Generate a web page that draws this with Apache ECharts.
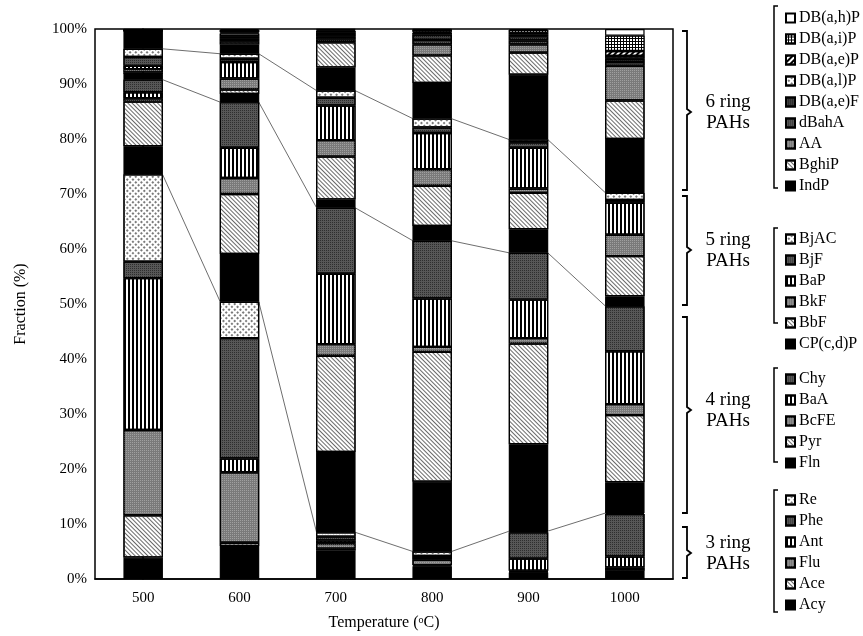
<!DOCTYPE html>
<html>
<head>
<meta charset="utf-8">
<script src="https://cdn.jsdelivr.net/npm/echarts@6/dist/echarts.min.js"></script>
<style>
  html, body { margin: 0; padding: 0; background: #fff; }
  #container { width: 863px; height: 636px; }
</style>
</head>
<body>
<div id="container"></div>
<script>
// categories
var temps = ['500', '600', '700', '800', '900', '1000'];
var yTicks = [0, 10, 20, 30, 40, 50, 60, 70, 80, 90, 100];

// 3 ring
var Acy = [3.9, 6.0, 5.2, 2.3, 1.2, 1.5];
var Ace = [7.7, 0.6, 0.3, 0.2, 0.1, 0.3];
var Flu = [15.5, 12.8, 1.0, 1.0, 0.2, 0.3];
var Ant = [27.6, 2.5, 0.5, 0.3, 2.2, 2.0];
var Phe = [3.0, 21.9, 0.7, 0.4, 4.8, 7.7];
var Re = [15.9, 6.6, 0.8, 0.8, 0.2, 0.2];
// 4 ring
var Fln = [5.1, 8.7, 14.6, 12.7, 15.8, 5.6];
var Pyr = [8.1, 10.9, 17.5, 23.6, 18.3, 12.2];
var BcFE = [0.6, 2.9, 2.1, 0.9, 1.0, 2.0];
var BaA = [1.1, 5.5, 12.8, 8.8, 7.0, 9.6];
var Chy = [2.3, 8.3, 12.0, 10.5, 8.5, 8.2];
// 5 ring
var CPcdP = [1.0, 1.5, 1.5, 2.7, 4.3, 1.8];
var BbF = [0.3, 0.8, 7.8, 7.3, 6.6, 7.3];
var BkF = [0.6, 2.0, 3.0, 3.0, 0.8, 3.9];
var BaP = [0.6, 3.0, 6.3, 6.6, 7.4, 5.8];
var BjF = [1.6, 0.6, 1.4, 1.0, 1.0, 0.5];
var BjAC = [1.5, 0.9, 1.3, 1.6, 0.5, 1.3];
// 6 ring
var IndP = [3.1, 1.7, 4.2, 6.5, 11.8, 9.8];
var BghiP = [0.1, 0.5, 4.6, 5.0, 4.0, 7.0];
var AA = [0.1, 0.3, 0.5, 2.0, 1.5, 6.3];
var dBahA = [0.0, 0.3, 0.5, 0.8, 0.7, 0.7];
var DBaeF = [0.1, 0.4, 0.5, 1.0, 0.8, 0.6];
var DBalP = [0.0, 0.5, 0.3, 0.3, 0.3, 0.5];
var DBaeP = [0.0, 0.2, 0.3, 0.2, 0.3, 0.9];
var DBaiP = [0.1, 0.4, 0.2, 0.4, 0.5, 2.8];
var DBahP = [0.1, 0.2, 0.1, 0.1, 0.2, 1.2];

var ring3 = [['Acy', Acy, 'black'], ['Ace', Ace, 'diag'], ['Flu', Flu, 'gray'], ['Ant', Ant, 'stripe'], ['Phe', Phe, 'dark'], ['Re', Re, 'check']];
var ring4 = [['Fln', Fln, 'black'], ['Pyr', Pyr, 'diag'], ['BcFE', BcFE, 'gray'], ['BaA', BaA, 'stripe'], ['Chy', Chy, 'dark']];
var ring5 = [['CP(c,d)P', CPcdP, 'black'], ['BbF', BbF, 'diag'], ['BkF', BkF, 'gray'], ['BaP', BaP, 'stripe'], ['BjF', BjF, 'dark'], ['BjAC', BjAC, 'check']];
var ring6 = [['IndP', IndP, 'black'], ['BghiP', BghiP, 'diag'], ['AA', AA, 'gray'], ['dBahA', dBahA, 'dark'], ['DB(a,e)F', DBaeF, 'dark2'],
  ['DB(a,l)P', DBalP, 'check'], ['DB(a,e)P', DBaeP, 'thick'], ['DB(a,i)P', DBaiP, 'grid'], ['DB(a,h)P', DBahP, 'white']];

function fill(kind) {
  var s = { borderColor: '#000', borderWidth: 1.2 };
  if (kind == 'black') { s.color = '#000'; }
  else if (kind == 'white') { s.color = '#fff'; }
  else if (kind == 'diag') {
    s.color = '#fff';
    s.decal = { symbol: 'rect', symbolSize: 1, color: '#6a6a6a', dashArrayX: [1, 0], dashArrayY: [1, 2], rotation: Math.PI / 4 };
  } else if (kind == 'gray') {
    s.color = '#7a7a7a';
    s.decal = { symbol: 'rect', symbolSize: 1, color: '#a0a0a0', dashArrayX: [1, 1], dashArrayY: [1, 1], rotation: 0 };
  } else if (kind == 'stripe') {
    s.color = '#fff';
    s.decal = { symbol: 'rect', symbolSize: 1, color: '#000', dashArrayX: [1.5, 1.5], dashArrayY: [1, 0], rotation: 0 };
  } else if (kind == 'dark') {
    s.color = '#575757';
    s.decal = { symbol: 'rect', symbolSize: 1, color: '#2e2e2e', dashArrayX: [1, 1], dashArrayY: [1, 1], rotation: 0 };
  } else if (kind == 'dark2') {
    s.color = '#404040';
    s.decal = { symbol: 'rect', symbolSize: 1, color: '#1a1a1a', dashArrayX: [1, 1], dashArrayY: [1, 1], rotation: 0 };
  } else if (kind == 'check') {
    s.color = '#fff';
    s.decal = { symbol: 'rect', symbolSize: 1, color: '#7a7a7a', dashArrayX: [2, 2], dashArrayY: [2, 2], rotation: Math.PI / 4 };
  } else if (kind == 'thick') {
    s.color = '#fff';
    s.decal = { symbol: 'rect', symbolSize: 1, color: '#000', dashArrayX: [1, 0], dashArrayY: [2, 2], rotation: -Math.PI / 4 };
  } else if (kind == 'grid') {
    s.color = '#000';
    s.decal = { symbol: 'rect', symbolSize: 1, color: '#fff', dashArrayX: [2, 1], dashArrayY: [2, 1], rotation: 0 };
  }
  return s;
}

var serif = 'Liberation Serif';
var all = ring3.concat(ring4, ring5, ring6);
var series = [];
for (var i = 0; i < all.length; i++) {
  series.push({
    name: all[i][0],
    type: 'bar',
    stack: 'total',
    barWidth: '41%',
    z: 3,
    itemStyle: fill(all[i][2]),
    data: all[i][1]
  });
}

// connecting lines between group boundaries
function cum(groups) {
  var out = [0, 0, 0, 0, 0, 0];
  groups.forEach(function (g) {
    g.forEach(function (s) { for (var k = 0; k < 6; k++) out[k] += s[1][k]; });
  });
  return out;
}
var bounds = [cum([ring3]), cum([ring3, ring4]), cum([ring3, ring4, ring5])];
var hw = 0.2;
bounds.forEach(function (b, j) {
  var pts = [];
  for (var k = 0; k < 6; k++) { pts.push([k - hw, b[k]]); pts.push([k + hw, b[k]]); }
  series.push({
    name: 'link' + j, type: 'line', xAxisIndex: 1, z: 1, symbol: 'none', silent: true,
    lineStyle: { color: '#6e6e6e', width: 1 }, data: pts
  });
});

function legendFor(items, top) {
  return {
    orient: 'vertical', left: 780, top: top, itemWidth: 9, itemHeight: 9, itemGap: 5, icon: 'rect',
    selectedMode: false,
    textStyle: { fontFamily: serif, fontSize: 16, color: '#000', lineHeight: 16, padding: [0, 0, 0, -1] },
    data: items.map(function (s) { return s[0]; }).reverse()
  };
}

function brace(y0, y1, tip) {
  return { type: 'polyline', shape: { points: [[682, y0], [687, y0], [687, tip - 3], [691, tip], [687, tip + 3], [687, y1], [682, y1]] },
    style: { stroke: '#000', lineWidth: 1.8, fill: null } };
}
function bracket(y0, y1) {
  return { type: 'polyline', shape: { points: [[778, y0], [774, y0], [774, y1], [778, y1]] },
    style: { stroke: '#000', lineWidth: 1.5, fill: null } };
}
function label(txt, y) {
  return { type: 'text', x: 728, y: y, style: { text: txt, fontFamily: serif, fontSize: 19, lineHeight: 21, fill: '#000', align: 'center', verticalAlign: 'middle' } };
}

var myChart = echarts.init(document.getElementById('container'));
var option = {
  animation: false,
  backgroundColor: '#fff',
  grid: { left: 95, right: 190, top: 29, bottom: 57, show: true, borderColor: '#000', borderWidth: 1.5 },
  legend: [legendFor(ring6, 5), legendFor(ring5, 226), legendFor(ring4, 366), legendFor(ring3, 487)],
  xAxis: [{
    type: 'category', data: temps,
    axisLine: { lineStyle: { color: '#000', width: 1.5 } },
    axisTick: { show: false },
    axisLabel: { fontFamily: serif, fontSize: 15, color: '#000', margin: 12 },
    name: 'Temperature ({s|o}C)', nameLocation: 'middle', nameGap: 36,
    nameTextStyle: { fontFamily: serif, fontSize: 16, color: '#000', rich: { s: { fontFamily: serif, fontSize: 10, verticalAlign: 'top', padding: [0, 0, 6, 0] } } }
  }, {
    type: 'value', min: -0.5, max: 5.5, show: false
  }],
  yAxis: {
    type: 'value', min: 0, max: 100, interval: 10,
    axisLine: { show: true, lineStyle: { color: '#000', width: 1.5 } },
    axisTick: { show: false },
    splitLine: { show: false },
    axisLabel: { fontFamily: serif, fontSize: 15, color: '#000', margin: 8, formatter: '{value}%' },
    name: 'Fraction (%)', nameLocation: 'middle', nameRotate: 90, nameGap: 66,
    nameTextStyle: { fontFamily: serif, fontSize: 16, color: '#000' }
  },
  graphic: [
    brace(31, 190, 112), label('6 ring\nPAHs', 113),
    brace(196, 305, 250), label('5 ring\nPAHs', 251),
    brace(317, 513, 410), label('4 ring\nPAHs', 411),
    brace(527, 578, 553), label('3 ring\nPAHs', 554),
    bracket(6, 188), bracket(228, 323), bracket(368, 462), bracket(490, 612)
  ],
  series: series
};
myChart.setOption(option);
</script>
</body>
</html>
